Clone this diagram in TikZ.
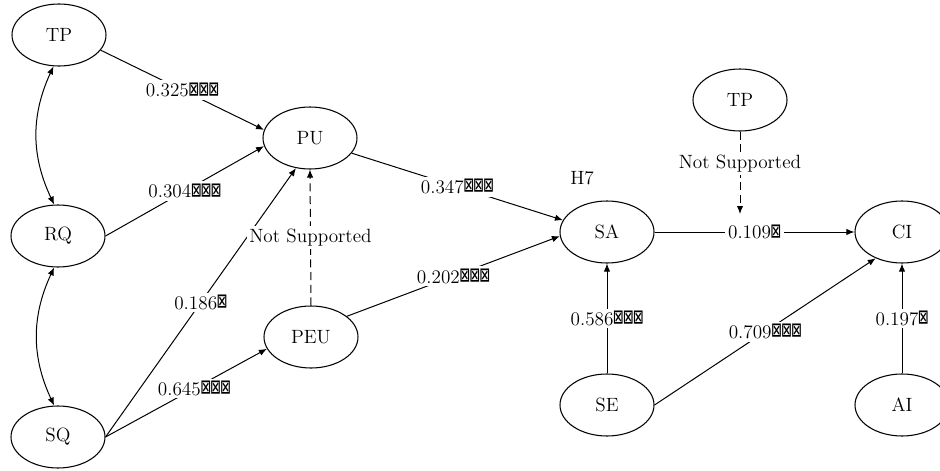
\documentclass[tikz,border=0pt]{standalone}
\usepackage{fontspec}
\newfontfamily\symfont{DejaVu Sans Mono}
\usetikzlibrary{shapes.geometric,arrows.meta}
% significance marks
\newcommand{\sigmark}{\raisebox{-0.3pt}{\scalebox{0.92}[1.4]{\symfont\fontsize{13.5}{13.5}\selectfont ⊠}}}
\begin{document}
\begin{tikzpicture}[x=0.75pt,y=-0.75pt,
  every node/.style={font=\fontsize{14.4}{17}\selectfont},
  construct/.style={ellipse,draw,line width=0.8pt,minimum width=70.5pt,minimum height=46.5pt,inner sep=0pt},
  effect/.style={line width=0.75pt,-{Latex[length=6pt,width=4.8pt]}},
  covary/.style={line width=0.75pt,{Latex[length=6pt,width=4.8pt]}-{Latex[length=6pt,width=4.8pt]}},
  unsupported/.style={effect,dash pattern=on 6pt off 3.5pt},
  coef/.style={fill=white,inner sep=2pt}]
\useasboundingbox (0,0) rectangle (940,471);

% constructs
\node[construct] (tpa) at (59,35)  {TP};
\node[construct] (rq)  at (58,236) {RQ};
\node[construct] (sq)  at (58,437) {SQ};
\node[construct] (pu)  at (310,138) {PU};
\node[construct] (peu) at (311,337) {PEU};
\node[construct] (sa)  at (607,232) {SA};
\node[construct] (tpb) at (740,100) {TP};
\node[construct] (ci)  at (902,232) {CI};
\node[construct] (se)  at (607,405) {SE};
\node[construct] (ai)  at (902,405) {AI};
\node (h7) at (582,178) {H7};
\coordinate (mod) at (740,214);

% correlations among the quality constructs
\draw[covary] (tpa.260) to[bend right=25] (rq.97);
\draw[covary] (rq.263) to[bend right=25] (sq.97);

% structural paths
\draw[effect] (tpa.-20) -- (pu.170) node[coef,pos=0.5] {0.325\sigmark\sigmark\sigmark};
\draw[effect] (rq.east) -- (pu.190) node[coef,pos=0.5] {0.304\sigmark\sigmark\sigmark};
\draw[effect] (sq.east) -- (pu.245) node[coef,pos=0.5] {0.186\sigmark};
\draw[effect] (sq.east) -- (peu.195) node[coef,pos=0.55] {0.645\sigmark\sigmark\sigmark};
\draw[unsupported] (peu.north) -- (pu.south) node[coef,pos=0.5] {Not Supported};
\draw[effect] (pu.-20) -- (sa.165) node[coef,pos=0.5] {0.347\sigmark\sigmark\sigmark};
\draw[effect] (peu.30) -- (sa.185) node[coef,pos=0.5] {0.202\sigmark\sigmark\sigmark};
\draw[effect] (sa.east) -- (ci.west) node[coef,pos=0.5] {0.109\sigmark};
\draw[effect] (se.north) -- (sa.south) node[coef,pos=0.5] {0.586\sigmark\sigmark\sigmark};
\draw[effect] (se.east) -- (ci.225) node[coef,pos=0.5] {0.709\sigmark\sigmark\sigmark};
\draw[effect] (ai.north) -- (ci.south) node[coef,pos=0.5] {0.197\sigmark};
\draw[unsupported] (tpb.south) -- (mod) node[coef,pos=0.39] {Not Supported};
\end{tikzpicture}
\end{document}
